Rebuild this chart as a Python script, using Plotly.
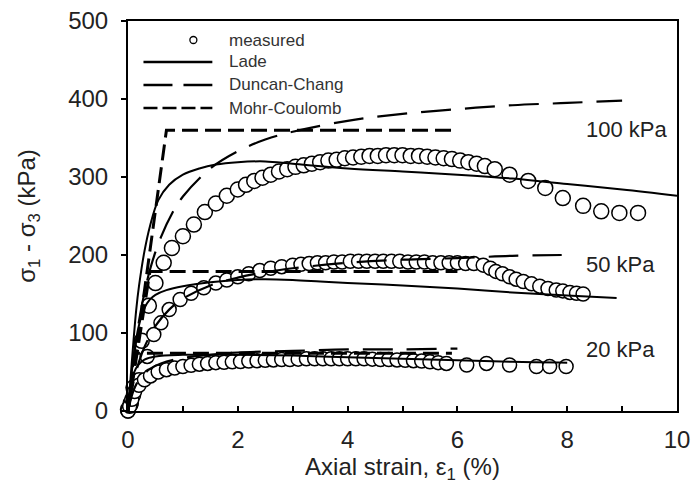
import plotly.graph_objects as go

# ---------------- data ----------------
meas100_x = [0.0, 0.05, 0.1, 0.25, 0.38, 0.5, 0.65, 0.8, 1.0, 1.2, 1.4, 1.6, 1.8,
             2.0, 2.15, 2.3, 2.45, 2.6, 2.75, 2.9, 3.05, 3.2, 3.35, 3.5, 3.65, 3.8, 3.95,
             4.1, 4.25, 4.4, 4.55, 4.7, 4.85, 5.0, 5.15, 5.3, 5.45, 5.6, 5.75, 5.9, 6.05,
             6.2, 6.35, 6.5, 6.68, 6.95, 7.29, 7.6, 7.92, 8.29, 8.62, 8.95, 9.29]
meas100_y = [2, 10, 30, 90, 135, 164, 190, 209, 224, 239, 255, 266, 276,
             284, 290, 295, 299, 303, 307, 310, 313, 315, 317, 319, 321, 322, 324,
             325, 326, 327, 327, 328, 328, 328, 327, 327, 326, 325, 324, 323, 321,
             319, 317, 314, 310, 303, 295, 286, 273, 263, 256, 254, 254]

meas50_x = [0.0, 0.05, 0.1, 0.2, 0.35, 0.47, 0.6, 0.75, 0.95, 1.15, 1.38, 1.6, 1.8,
            2.0, 2.2, 2.4, 2.6, 2.8, 3.0, 3.15, 3.3, 3.45, 3.6, 3.75, 3.9, 4.05, 4.2,
            4.35, 4.5, 4.65, 4.8, 4.95, 5.1, 5.25, 5.4, 5.55, 5.7, 5.85, 6.0, 6.15,
            6.3, 6.47, 6.6, 6.7, 6.82, 6.95, 7.07, 7.2, 7.35, 7.5, 7.65, 7.8, 7.92,
            8.05, 8.17, 8.29]
meas50_y = [0, 8, 20, 40, 70, 98, 113, 130, 143, 151, 158, 164, 168,
            172, 176, 180, 183, 185, 187, 188, 189, 190, 190, 191, 191, 192, 192,
            192, 192, 192, 192, 192, 191, 191, 191, 190, 190, 190, 190, 189,
            189, 187, 183, 179, 176, 172, 169, 166, 163, 160, 157, 155, 154,
            152, 151, 150]

meas20_x = [0.0, 0.03, 0.07, 0.12, 0.2, 0.3, 0.41, 0.55, 0.7, 0.85, 1.0, 1.15, 1.3,
            1.45, 1.6, 1.75, 1.9, 2.05, 2.2, 2.35, 2.5, 2.65, 2.8, 2.95, 3.1, 3.25,
            3.4, 3.55, 3.7, 3.85, 4.0, 4.15, 4.3, 4.45, 4.6, 4.75, 4.9, 5.05, 5.2,
            5.35, 5.5, 5.65, 5.8, 6.17, 6.53, 6.95, 7.44, 7.68, 7.98]
meas20_y = [0, 6, 15, 25, 33, 40, 45, 50, 53, 55, 57, 58.5, 60,
            61, 62, 62.5, 63, 63.5, 64, 64.5, 65, 65.5, 66, 66, 66.5, 67,
            67, 67, 67, 67, 67, 67, 67, 66.5, 66, 66, 65.5, 65, 64.5,
            64, 63, 62, 61, 59, 61, 59, 57, 57, 57]

lade100_x = [0, 0.05, 0.1, 0.15, 0.2, 0.3, 0.4, 0.55, 0.75, 1.0, 1.3, 1.6, 2.0, 2.5,
             3.0, 4.0, 5.0, 6.0, 7.0, 8.0, 9.0, 10.0]
lade100_y = [0, 45, 90, 130, 160, 205, 237, 270, 290, 303, 311, 316, 319, 320,
             317, 311, 307, 303, 298, 291, 284, 276]

lade50_x = [0, 0.05, 0.1, 0.2, 0.3, 0.4, 0.5, 0.7, 1.0, 1.5, 2.0, 2.5, 3.0, 3.5,
            4.0, 5.0, 6.0, 7.0, 8.0, 8.9]
lade50_y = [0, 35, 70, 110, 132, 143, 149, 155, 160, 165, 168, 169, 168, 166,
            164, 161, 157, 152, 148, 145]

lade20_x = [0, 0.05, 0.1, 0.2, 0.3, 0.5, 1.0, 2.0, 3.0, 4.0, 5.0, 6.0, 7.0, 8.0]
lade20_y = [0, 30, 48, 60, 66, 70, 72, 72, 71, 69, 67, 65, 63, 62]

dc100_x = [0, 0.2, 0.4, 0.6, 0.8, 1.0, 1.5, 2.0, 2.5, 3.0, 4.0, 5.0, 6.0, 7.0, 8.0, 9.0]
dc100_y = [0, 115, 181, 223, 253, 275, 311, 333, 348, 358, 372, 381, 387, 392, 395, 398]

dc50_x = [0, 0.1, 0.2, 0.3, 0.5, 0.75, 1.0, 1.5, 2.0, 2.5, 3.0, 4.0, 5.0, 6.0, 7.0, 7.9]
dc50_y = [0, 37, 63, 82, 109, 130, 144, 161, 171, 178, 183, 190, 194, 196, 199, 200]

dc20_x = [0, 0.1, 0.2, 0.4, 0.6, 1.0, 1.5, 2.0, 3.0, 4.0, 5.0, 6.0]
dc20_y = [0, 26, 40, 54, 61, 68, 72, 75, 77, 79, 79, 80]

mc100_x = [0, 0.7, 6.0]
mc100_y = [0, 360, 360]
mc50_x = [0, 0.4, 6.0]
mc50_y = [0, 179, 179]
mc20_x = [0, 0.15, 5.9]
mc20_y = [0, 74, 74]

pressure_labels = ["100 kPa", "50 kPa", "20 kPa"]
pressure_label_x = [8.3, 8.3, 8.3]
pressure_label_y = [361, 188, 79]

legend_names = ["measured", "Lade", "Duncan-Chang", "Mohr-Coulomb"]

# ---------------- figure ----------------
FONT = "Liberation Sans, Arial, sans-serif"
L, R, T, B = 127.5, 18.5, 21, 83
W, H = 696, 494
PW, PH = W - L - R, H - T - B

fig = go.Figure()

for mx, my, sz in [(meas100_x, meas100_y, 15), (meas50_x, meas50_y, 14), (meas20_x, meas20_y, 14)]:
    fig.add_trace(go.Scatter(x=mx, y=my, mode="markers", cliponaxis=False,
                             marker=dict(symbol="circle", size=sz, color="white",
                                         line=dict(color="black", width=1.5)),
                             showlegend=False))

for lx, ly in [(lade100_x, lade100_y), (lade50_x, lade50_y), (lade20_x, lade20_y)]:
    fig.add_trace(go.Scatter(x=lx, y=ly, mode="lines", line=dict(color="black", width=2),
                             line_shape="spline", showlegend=False))

for dx, dy in [(dc100_x, dc100_y), (dc50_x, dc50_y), (dc20_x, dc20_y)]:
    fig.add_trace(go.Scatter(x=dx, y=dy, mode="lines", line_shape="spline",
                             line=dict(color="black", width=2.2, dash="30px,14px"),
                             showlegend=False))

for cx, cy in [(mc100_x, mc100_y), (mc50_x, mc50_y), (mc20_x, mc20_y)]:
    fig.add_trace(go.Scatter(x=cx, y=cy, mode="lines",
                             line=dict(color="black", width=3, dash="16px,7px"),
                             showlegend=False))

for txt, ax, ay in zip(pressure_labels, pressure_label_x, pressure_label_y):
    fig.add_annotation(x=ax, y=ay, text=txt, showarrow=False, xanchor="left",
                       yanchor="middle", font=dict(family=FONT, size=22, color="#222"))

# manual legend (pixel positions -> paper coords)
def px(xp):
    return (xp - L) / PW

def py(yp):
    return (H - B - yp) / PH

rows_y = [40, 62, 85, 108]
line_x0, line_x1 = 143, 212
r = 3.5
fig.add_shape(type="circle", xref="paper", yref="paper",
              x0=px(193 - r), x1=px(193 + r), y0=py(rows_y[0] + r), y1=py(rows_y[0] - r),
              line=dict(color="black", width=1.3), fillcolor="white")
fig.add_shape(type="line", xref="paper", yref="paper", x0=px(line_x0), x1=px(line_x1),
              y0=py(rows_y[1]), y1=py(rows_y[1]), line=dict(color="black", width=2.5))
fig.add_shape(type="line", xref="paper", yref="paper", x0=px(line_x0), x1=px(line_x1),
              y0=py(rows_y[2]), y1=py(rows_y[2]),
              line=dict(color="black", width=2.5, dash="29px,11px"))
fig.add_shape(type="line", xref="paper", yref="paper", x0=px(line_x0), x1=px(line_x1),
              y0=py(rows_y[3]), y1=py(rows_y[3]),
              line=dict(color="black", width=2.5, dash="14px,5px"))
for name, ry in zip(legend_names, rows_y):
    fig.add_annotation(xref="paper", yref="paper", x=px(227), y=py(ry), text=name,
                       showarrow=False, xanchor="left", yanchor="middle",
                       font=dict(family=FONT, size=17, color="#333"))

fig.update_layout(
    width=W, height=H,
    margin=dict(l=L, r=R, t=T, b=B, autoexpand=False),
    paper_bgcolor="white", plot_bgcolor="white",
    font=dict(family=FONT, color="#222"),
    showlegend=False,
)
fig.update_xaxes(range=[0, 10], dtick=2, tick0=0, ticks="inside", ticklen=5,
                 tickwidth=1.5, tickcolor="black", ticklabelstandoff=6,
                 minor=dict(dtick=1, ticks="inside", ticklen=5, tickwidth=1.5, tickcolor="black"),
                 showline=True, linecolor="black", linewidth=2, mirror=True,
                 showgrid=False, zeroline=False,
                 tickfont=dict(family=FONT, size=24, color="#222"),
                 title=dict(text="Axial strain, ε<sub>1</sub> (%)", standoff=6,
                            font=dict(family=FONT, size=24, color="#222")))
fig.update_yaxes(range=[0, 500], dtick=100, ticks="outside", ticklen=5,
                 tickwidth=1.5, tickcolor="black", ticklabelstandoff=8,
                 showline=True, linecolor="black", linewidth=2, mirror=True,
                 showgrid=False, zeroline=False,
                 tickfont=dict(family=FONT, size=24, color="#222"),
                 title=dict(text="σ<sub>1</sub> - σ<sub>3</sub> (kPa)", standoff=26,
                            font=dict(family=FONT, size=24, color="#222")))

fig.write_html("out.html", config={"displayModeBar": False},
               post_script="document.body.style.margin='0px';")
